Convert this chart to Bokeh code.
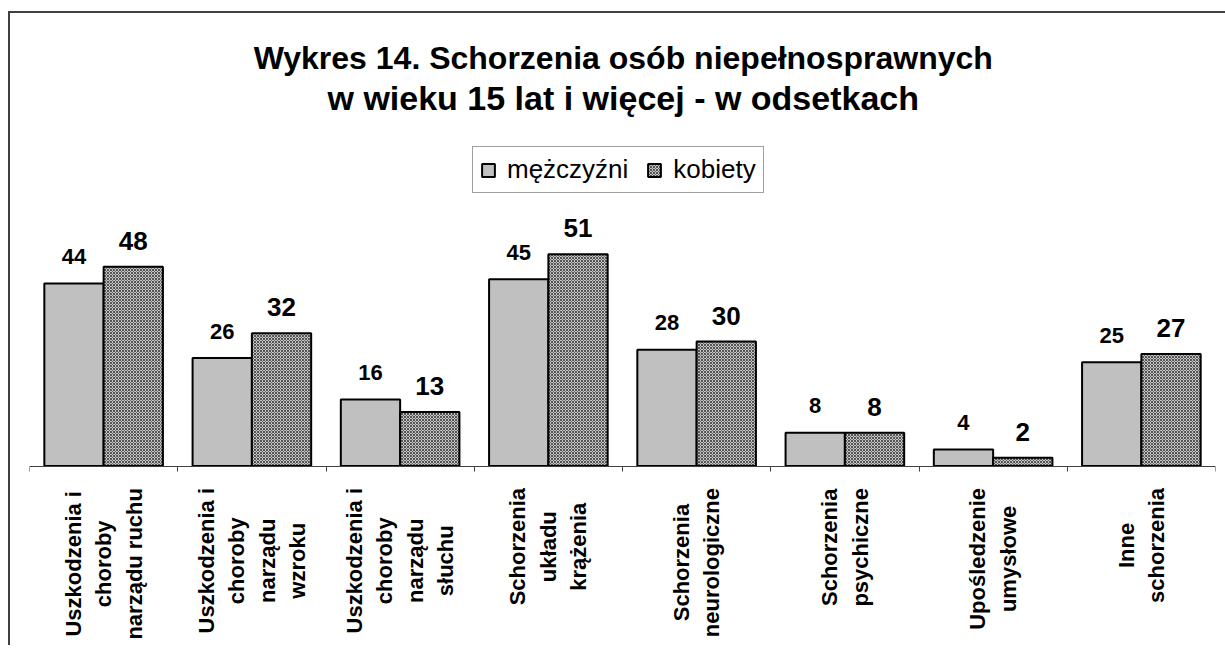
import numpy as np
from bokeh.plotting import figure
from bokeh.models import (ColumnDataSource, LabelSet, Label, Legend, LegendItem,
                          Range1d, FixedTicker)
from bokeh.transform import dodge
from bokeh.core.properties import value
from bokeh.embed import file_html
from bokeh.resources import INLINE

# ---------------- data ----------------
categories = [
    "Uszkodzenia i\nchoroby\nnarządu ruchu",
    "Uszkodzenia i\nchoroby\nnarządu\nwzroku",
    "Uszkodzenia i\nchoroby\nnarządu\nsłuchu",
    "Schorzenia\nukładu\nkrążenia",
    "Schorzenia\nneurologiczne",
    "Schorzenia\npsychiczne",
    "Upośledzenie\numysłowe",
    "Inne\nschorzenia",
]
series_names = ["mężczyźni", "kobiety"]
men = [44, 26, 16, 45, 28, 8, 4, 25]
women = [48, 32, 13, 51, 30, 8, 2, 27]
title_lines = ["Wykres 14. Schorzenia osób niepełnosprawnych",
               "w wieku 15 lat i więcej - w odsetkach"]

FONT = "Liberation Sans"

# ---------------- geometry (pixels) ----------------
ORIG_X, ORIG_Y = 10, 13          # page position of the canvas origin
FRAME_W, FRAME_H = 1186, 632
BASE_PX = 452.5                  # baseline distance from frame top
PPU = 4.15                       # pixels per percentage point

p = figure(frame_width=FRAME_W, frame_height=FRAME_H,
           x_range=Range1d(0, len(categories)),
           y_range=Range1d(-(FRAME_H - BASE_PX) / PPU, BASE_PX / PPU),
           output_backend="svg", toolbar_location=None, y_axis_location=None,
           min_border_left=19, min_border_right=10, min_border_top=0,
           min_border_bottom=0, outline_line_color=None,
           background_fill_color="white", border_fill_color="white")
p.styles = {"border-top": "2px solid #404040", "border-left": "2px solid #404040",
            "margin-top": "11px", "margin-left": "8px"}
p.xgrid.visible = False
p.ygrid.visible = False

xa = p.xaxis[0]
xa.fixed_location = 0
xa.ticker = FixedTicker(ticks=list(range(len(categories) + 1)))
xa.major_label_overrides = {i: "" for i in range(len(categories) + 1)}
xa.major_label_text_font_size = "0px"
xa.major_label_standoff = 0
xa.axis_line_color = "#404040"
xa.axis_line_width = 1
xa.major_tick_line_color = "#404040"
xa.major_tick_out = 5
xa.major_tick_in = 0
xa.minor_tick_line_color = None

src = ColumnDataSource(dict(
    x=np.arange(len(categories)) + 0.5,
    men=men, women=women,
    men_txt=[str(v) for v in men], women_txt=[str(v) for v in women],
))

r1 = p.vbar(x=dodge("x", -0.2), top="men", width=0.4, bottom=0, source=src,
            fill_color="#c0c0c0", line_color="black", line_width=2)
r2 = p.vbar(x=dodge("x", 0.2), top="women", width=0.4, bottom=0, source=src,
            fill_color="#c4c4c4", hatch_pattern="diagonal_cross", hatch_scale=3,
            hatch_color="#555555", hatch_weight=1,
            line_color="black", line_width=2)

p.add_layout(LabelSet(x=dodge("x", -0.2), y="men", text="men_txt", source=src,
                      text_align="center", text_baseline="middle", y_offset=27,
                      text_font=value(FONT), text_font_size="22px",
                      text_font_style="bold", text_color="black"))
p.add_layout(LabelSet(x=dodge("x", 0.2), y="women", text="women_txt", source=src,
                      text_align="center", text_baseline="middle", y_offset=26,
                      text_font=value(FONT), text_font_size="26px",
                      text_font_style="bold", text_color="black"))

# ---------------- category labels (rotated, centred lines) ----------------
CW = {}
for ch in "ijlł .,I": CW[ch] = 278
for ch in "tf": CW[ch] = 333
CW["r"] = 389
for ch in "bdghnńoópqu": CW[ch] = 611
CW["w"] = 778
CW["m"] = 889
for ch in "zżź": CW[ch] = 500
CW["U"] = 722
CW["S"] = 667


def est_width(s, size):
    return sum(CW.get(c, 556) for c in s) / 1000.0 * size


LSIZE = 22
LSP = 30.5
TOPGAP = 22
lx, lt, lxo, lyo = [], [], [], []
for i, cat in enumerate(categories):
    lines = cat.split("\n")
    n = len(lines)
    wmax = max(est_width(s, LSIZE) for s in lines)
    for j, s in enumerate(lines):
        lx.append(i + 0.5)
        lt.append(s)
        lxo.append((j - (n - 1) / 2.0) * LSP)
        lyo.append(-(TOPGAP + wmax / 2.0))
csrc = ColumnDataSource(dict(x=lx, y=[0] * len(lx), text=lt, xo=lxo, yo=lyo))
p.add_layout(LabelSet(x="x", y="y", text="text", source=csrc, x_offset="xo",
                      y_offset="yo", angle=np.pi / 2, text_align="center",
                      text_baseline="middle", text_font=value(FONT),
                      text_font_size=f"{LSIZE}px", text_font_style="bold",
                      text_color="black"))

# ---------------- title ----------------
title_page_y = [57, 97]
title_sizes = ["32px", "34px"]
for t, py, fs in zip(title_lines, title_page_y, title_sizes):
    ty = py - ORIG_Y
    p.add_layout(Label(x=len(categories) / 2.0 + 0.005, y=(BASE_PX - ty) / PPU,
                       text=t, text_align="center", text_baseline="middle",
                       text_font=FONT, text_font_size=fs,
                       text_font_style="bold", text_color="black"))

# ---------------- legend ----------------
frame_bottom_page = ORIG_Y + FRAME_H
legend = Legend(items=[LegendItem(label=series_names[0], renderers=[r1]),
                       LegendItem(label=series_names[1], renderers=[r2])],
                orientation="horizontal",
                location=(472 - 29, frame_bottom_page - 193),
                label_text_font=FONT, label_text_font_size="26px",
                label_text_color="black", glyph_width=16, glyph_height=16,
                label_standoff=11, spacing=18, padding=7, margin=0,
                border_line_color="#404040", border_line_width=1,
                background_fill_color="white", background_fill_alpha=1.0)
p.add_layout(legend, "center")

open("out.html", "w").write(file_html(p, INLINE))
